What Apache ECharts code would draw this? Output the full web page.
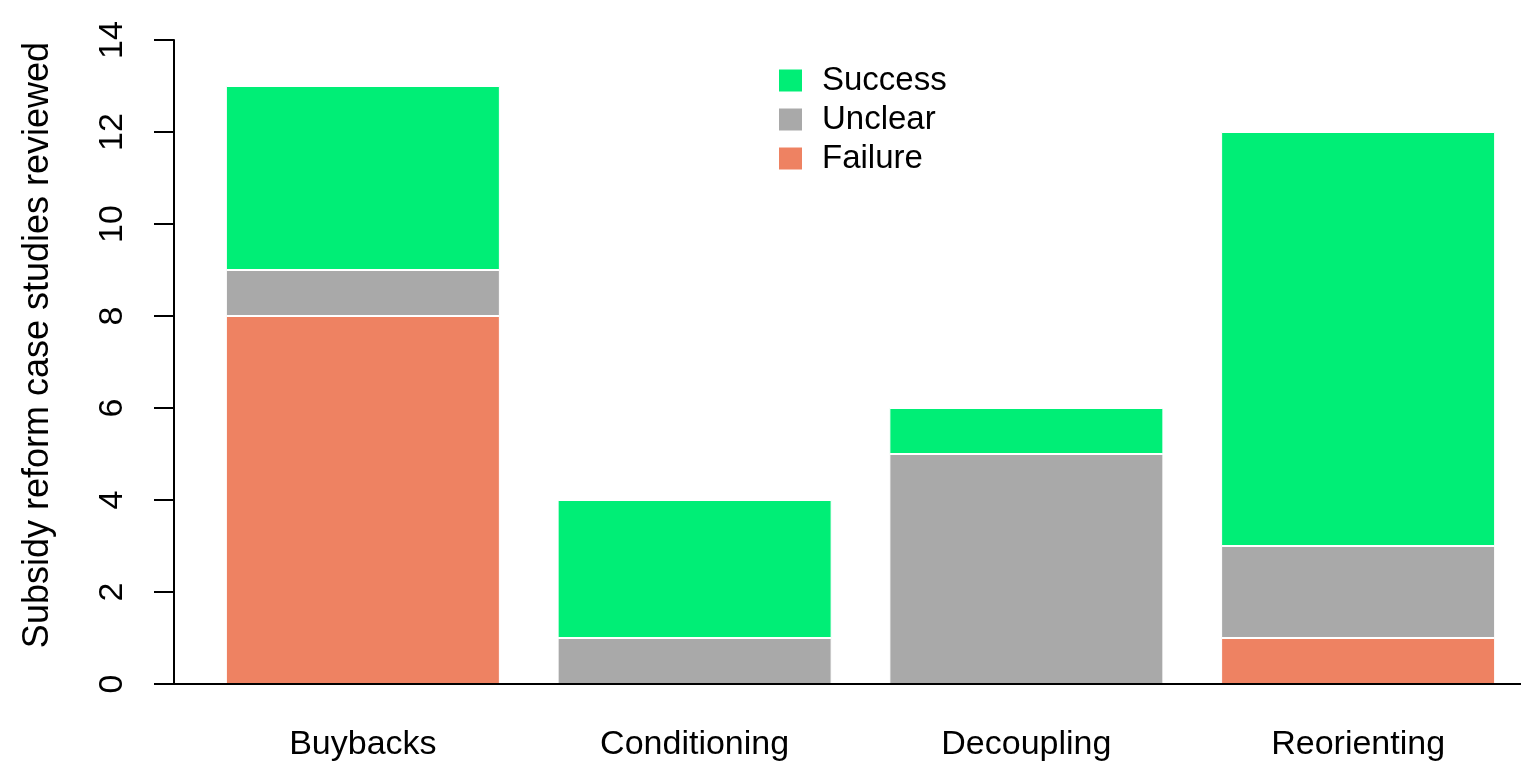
<!DOCTYPE html>
<html>
<head>
<meta charset="utf-8">
<script src="https://cdn.jsdelivr.net/npm/echarts@6/dist/echarts.min.js"></script>
<style>
html,body{margin:0;padding:0;background:#fff;}
#chart{width:1530px;height:766px;}
</style>
</head>
<body>
<div id="chart"></div>
<script>
const categories = ['Buybacks', 'Conditioning', 'Decoupling', 'Reorienting'];
const failure = [8, 0, 0, 1];
const unclear = [1, 1, 5, 2];
const success = [4, 3, 1, 9];
const yTicks = [0, 2, 4, 6, 8, 10, 12, 14];
const legendOrder = ['Success', 'Unclear', 'Failure'];

const FONT = 'Liberation Sans, Arial, sans-serif';
const chart = echarts.init(document.getElementById('chart'), null, {renderer: 'canvas'});

const barStyle = (c) => ({color: c, borderColor: '#ffffff', borderWidth: 1});

const option = {
  animation: false,
  backgroundColor: '#ffffff',
  grid: {left: 197, right: 6, top: 40, bottom: 82, containLabel: false},
  legend: {
    data: legendOrder,
    orient: 'vertical',
    left: 772,
    top: 59,
    itemWidth: 25,
    itemHeight: 24,
    itemGap: 6,
    icon: 'rect',
    textStyle: {fontFamily: FONT, fontSize: 33, color: '#000', lineHeight: 33, padding: [0, 0, 0, 14]}
  },
  xAxis: {
    type: 'category',
    data: categories,
    axisLine: {show: false},
    axisTick: {show: false},
    axisLabel: {fontFamily: FONT, fontSize: 34, color: '#000', margin: 44}
  },
  yAxis: {
    type: 'value',
    min: yTicks[0],
    max: yTicks[yTicks.length - 1],
    interval: 2,
    offset: 23,
    splitLine: {show: false},
    axisLine: {show: true, lineStyle: {color: '#000', width: 2}},
    axisTick: {show: true, length: 20, lineStyle: {color: '#000', width: 2}},
    axisLabel: {fontFamily: FONT, fontSize: 34, color: '#000', rotate: 90, margin: 44},
    name: 'Subsidy reform case studies reviewed',
    nameLocation: 'middle',
    nameGap: 118,
    nameTextStyle: {fontFamily: FONT, fontSize: 36, color: '#000', padding: [0, 0, 0, 34]}
  },
  series: [
    {name: 'Failure', type: 'bar', stack: 'a', data: failure, barCategoryGap: '17.4%', itemStyle: barStyle('#EE8262')},
    {name: 'Unclear', type: 'bar', stack: 'a', data: unclear, itemStyle: barStyle('#A9A9A9')},
    {name: 'Success', type: 'bar', stack: 'a', data: success, itemStyle: barStyle('#00EE76')}
  ]
};
chart.setOption(option);

// baseline (x axis line) running from the y-axis line to the right end
const y0 = chart.convertToPixel({yAxisIndex: 0}, 0);
chart.setOption({
  graphic: [{
    type: 'line',
    shape: {x1: 174, y1: y0, x2: 1521, y2: y0},
    style: {stroke: '#000', lineWidth: 2},
    z: 10
  }]
});
</script>
</body>
</html>
